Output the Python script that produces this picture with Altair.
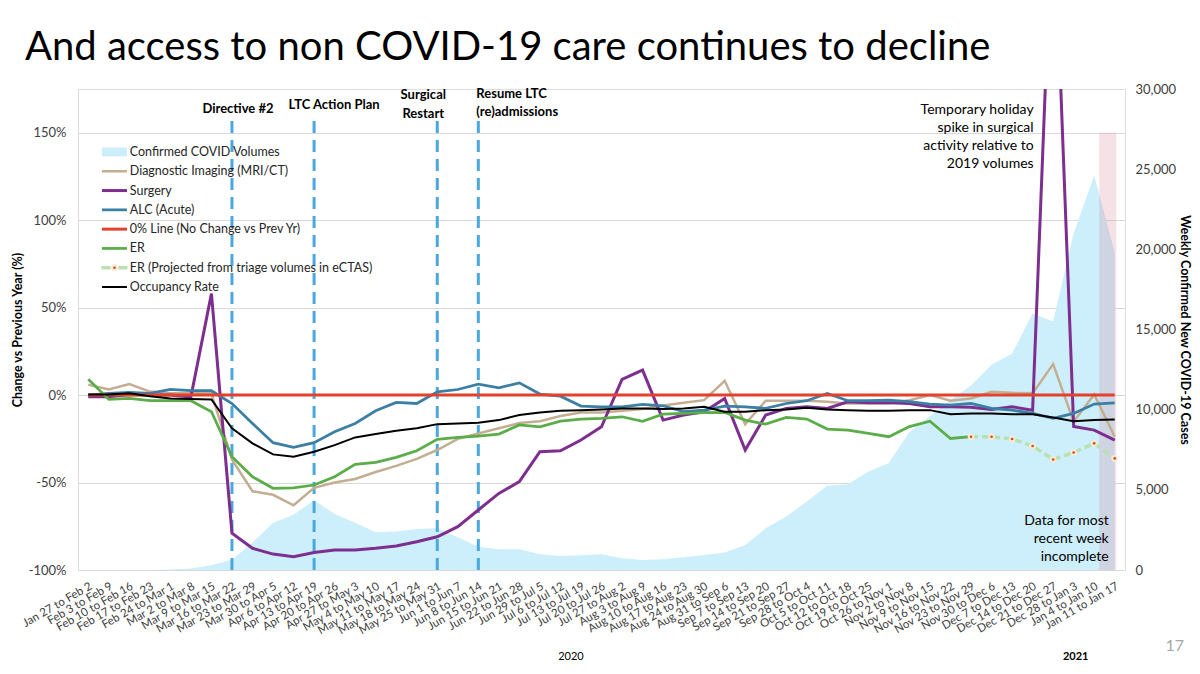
import altair as alt

WEEKS = [
    "Jan 27 to Feb 2", "Feb 3 to Feb 9", "Feb 10 to Feb 16", "Feb 17 to Feb 23", "Feb 24 to Mar 1",
    "Mar 2 to Mar 8", "Mar 9 to Mar 15", "Mar 16 to Mar 22", "Mar 23 to Mar 29", "Mar 30 to Apr 5",
    "Apr 6 to Apr 12", "Apr 13 to Apr 19", "Apr 20 to Apr 26", "Apr 27 to May 3", "May 4 to May 10",
    "May 11 to May 17", "May 18 to May 24", "May 25 to May 31", "Jun 1 to Jun 7", "Jun 8 to Jun 14",
    "Jun 15 to Jun 21", "Jun 22 to Jun 28", "Jun 29 to Jul 5", "Jul 6 to Jul 12", "Jul 13 to Jul 19",
    "Jul 20 to Jul 26", "Jul 27 to Aug 2", "Aug 3 to Aug 9", "Aug 10 to Aug 16", "Aug 17 to Aug 23",
    "Aug 24 to Aug 30", "Aug 31 to Sep 6", "Sep 7 to Sep 13", "Sep 14 to Sep 20", "Sep 21 to Sep 27",
    "Sep 28 to Oct 4", "Oct 5 to Oct 11", "Oct 12 to Oct 18", "Oct 19 to Oct 25", "Oct 26 to Nov 1",
    "Nov 2 to Nov 8", "Nov 9 to Nov 15", "Nov 16 to Nov 22", "Nov 23 to Nov 29", "Nov 30 to Dec 6",
    "Dec 7 to Dec 13", "Dec 14 to Dec 20", "Dec 21 to Dec 27", "Dec 28 to Jan 3", "Jan 4 to Jan 10",
    "Jan 11 to Jan 17",
]

COVID_CASES = [0, 0, 0, 0, 30, 100, 300, 650, 1700, 2950, 3450, 4350, 3500, 2950, 2350, 2400, 2550,
               2600, 2050, 1450, 1300, 1300, 980, 875, 920, 980, 730, 625, 670, 790, 940, 1085, 1560,
               2600, 3330, 4270, 5250, 5350, 6150, 6670, 8600, 9600, 10600, 11500, 12800, 13500, 16000,
               15500, 21000, 24600, 19800]

DIAGNOSTIC_IMAGING = [6, 3.2, 6.3, 2, 1, 1, 1, -37, -55, -57, -63, -53, -50, -48, -44, -40.5, -36.5,
                      -31.4, -25, -22, -19, -16, -15, -12, -10, -10, -9, -8, -6, -4.4, -2.9, 8.2,
                      -16.6, -3.2, -3.2, -3.2, -3.8, -4.8, -4.8, -4.8, -2.9, 0, -3.2, -1.9, 1.9, 1.3,
                      1, 17.7, -15.2, 0.4, -23.8]

SURGERY = [-1, -1, 0.4, 0, 0, -1, 58, -79, -87.6, -90.9, -92.4, -90, -88.6, -88.6, -87.6, -86.3,
           -83.8, -81, -75.2, -65.7, -56.2, -49.5, -32.4, -31.8, -25.7, -18.1, 9, 14.3, -14.3, -11.4,
           -9.5, -1.9, -31.4, -11.4, -7.6, -6.7, -7.6, -3.8, -4.4, -4.4, -4.8, -6.7, -6.7, -7, -8.2,
           -6.7, -8.6, 290, -18, -20, -25.7]

ALC_ACUTE = [0, 1, 1.5, 1, 3.2, 2.5, 2.5, -4.8, -16.2, -27.2, -29.9, -27.2, -21, -16.2, -9, -4.2,
             -4.8, 1.9, 3.2, 6.3, 4.2, 7, 0.6, -0.6, -6.3, -6.7, -6.7, -5.3, -6.1, -9.5, -8.6, -6.3,
             -6.7, -7.6, -4.8, -3.2, 1, -3.2, -3.2, -2.9, -3.8, -5.1, -5.7, -4.8, -7.6, -8.6, -10.5,
             -13.3, -10.5, -5.1, -4.4]

ZERO_LINE = [0 for _ in WEEKS]

# ER actuals: Jan 27 .. Nov 23 week
ER = [9, -2.5, -1.9, -3.2, -3.2, -3.2, -9.5, -35.2, -46.7, -53.3, -53, -51.4, -46.7, -39.6, -38.5,
      -35.6, -31.8, -25.3, -24.2, -23.4, -22.3, -17.1, -18.1, -14.9, -13.7, -13.3, -12.4, -15,
      -10.9, -10.5, -10, -9.9, -14.3, -16.6, -12.8, -13.7, -19.4, -20, -21.9, -23.8, -18, -14.9,
      -24.8, -23.8]

# ER projected from triage volumes: Nov 23 week .. Jan 11 week
ER_PROJECTED = [-23.8, -23.8, -25.1, -29.1, -36.8, -32.8, -27.6, -36.2]

OCCUPANCY = [0.4, 0.4, 1, -0.6, -1.9, -2.3, -2.5, -19, -27.6, -33.9, -35.2, -32.4, -28.6, -24.2,
             -22.3, -20.4, -19, -16.6, -16.2, -15.8, -14.3, -11.4, -10, -9, -8.6, -8.2, -7.6, -7.6,
             -8, -7.6, -6.7, -9.5, -9.5, -8.6, -8.2, -7.2, -8.2, -8.6, -9, -9, -8.6, -8.6, -10.9,
             -10.5, -10.5, -10.9, -10.9, -12.8, -14.9, -14.3, -13.9]

SERIES = [
    "Confirmed COVID Volumes",
    "Diagnostic Imaging (MRI/CT)",
    "Surgery",
    "ALC (Acute)",
    "0% Line (No Change vs Prev Yr)",
    "ER",
    "ER (Projected from triage volumes in eCTAS)",
    "Occupancy Rate",
]
COLORS = ["#cdeefb", "#c4ae92", "#7d2e8e", "#3b7fa5", "#e4412c", "#5aad48", "#b9e0b0", "#000000"]

MILESTONE_WEEKS = ["Mar 16 to Mar 22", "Apr 13 to Apr 19", "May 25 to May 31", "Jun 8 to Jun 14"]
INCOMPLETE_WEEK = "Jan 11 to Jan 17"

FONT = "Lato"
PROJ_NAME = SERIES[6]


def rows(name, vals, start=0):
    return [{"week": WEEKS[start + k], "series": name, "pct": v} for k, v in enumerate(vals)]


X = alt.X(
    "week:N",
    sort=WEEKS,
    scale=alt.Scale(type="band", domain=WEEKS, paddingInner=0, paddingOuter=0),
    axis=alt.Axis(title=None, labelAngle=-30, labelFontSize=11.5, labelFont=FONT, labelColor="#404040",
                  ticks=False, domain=False, labelPadding=10, labelOverlap=False, labelLimit=0),
)

Y_LEFT = alt.Y(
    "pct:Q",
    scale=alt.Scale(domain=[-100, 175], nice=False, zero=False),
    axis=alt.Axis(orient="left", title="Change vs Previous Year (%)", values=[-100, -50, 0, 50, 100, 150],
                  labelExpr="datum.value + '%'", grid=True, gridColor="#d9d9d9", ticks=False, domain=False,
                  labelFontSize=13, labelFont=FONT, labelColor="#404040", labelPadding=12,
                  titleFont=FONT, titleFontSize=12.5, titleFontWeight="bold", titleColor="#000",
                  titlePadding=4),
)

COLOR = alt.Color("series:N", scale=alt.Scale(domain=SERIES, range=COLORS), legend=None)

# --- COVID area on right axis
covid_rows = [{"week": w, "series": SERIES[0], "cases": c} for w, c in zip(WEEKS, COVID_CASES)]
area = alt.Chart(alt.Data(values=covid_rows)).mark_area(opacity=1, interpolate="linear").encode(
    x=X,
    y=alt.Y("cases:Q", scale=alt.Scale(domain=[0, 30000], nice=False),
            axis=alt.Axis(orient="right", values=[0, 5000, 10000, 15000, 20000, 25000, 30000],
                          labelExpr="format(datum.value, ',')",
                          grid=False, ticks=False, domain=False, labelFontSize=13, labelFont=FONT,
                          labelColor="#404040", labelPadding=10, title="Weekly Confirmed New COVID-19 Cases",
                          titleFont=FONT, titleFontSize=12.5, titleFontWeight="bold", titleColor="#000",
                          titlePadding=2)),
    color=COLOR,
)

# --- incomplete-week highlight
overlay = alt.Chart(alt.Data(values=[{"week": INCOMPLETE_WEEK, "pct": 150, "pct2": -100}])).mark_bar(
    color="#d9899a", opacity=0.25, width=17, xOffset=-7
).encode(x=X, y=Y_LEFT, y2="pct2:Q")

# --- milestone dashed lines
milestones = alt.Chart(alt.Data(values=[{"week": w, "pct": -100, "pct2": 157} for w in MILESTONE_WEEKS])).mark_rule(
    color="#4aa8dc", strokeWidth=3, strokeDash=[12, 7]
).encode(x=X, y=Y_LEFT, y2="pct2:Q")

layers = [overlay, milestones]

line_specs = [
    (SERIES[1], DIAGNOSTIC_IMAGING, 0, 2.5, None),
    (SERIES[2], SURGERY, 0, 3, None),
    (SERIES[3], ALC_ACUTE, 0, 2.75, None),
    (SERIES[4], ZERO_LINE, 0, 3, None),
    (SERIES[5], ER, 0, 2.75, None),
    (SERIES[6], ER_PROJECTED, 43, 3.5, [7, 4]),
    (SERIES[7], OCCUPANCY, 0, 2, None),
]
WIDTHS = {s[0]: s[3] for s in line_specs}
for name, vals, start, w, dash in line_specs:
    kw = dict(strokeWidth=w, clip=True)
    if dash:
        kw["strokeDash"] = dash
    layers.append(alt.Chart(alt.Data(values=rows(name, vals, start))).mark_line(**kw).encode(
        x=X, y=Y_LEFT, color=COLOR))
    if name == PROJ_NAME:
        pdata = alt.Data(values=rows(name, vals, start))
        layers.append(alt.Chart(pdata).mark_circle(size=45, color="#f5ecd2", opacity=1).encode(x=X, y=Y_LEFT))
        layers.append(alt.Chart(pdata).mark_circle(size=7, color="#d9482b", opacity=1).encode(x=X, y=Y_LEFT))

# --- legend (drawn in the plot's own coordinates, top-left corner)
LEG_TOP, LEG_STEP = 139.0, 11.03
leg_rows = [{"week": WEEKS[0], "series": s, "pct": LEG_TOP - k * LEG_STEP} for k, s in enumerate(SERIES)]
leg_main = [r for r in leg_rows if r["series"] not in (SERIES[0], PROJ_NAME)]
for r in leg_main:
    layers.append(alt.Chart(alt.Data(values=[r])).mark_tick(
        size=25, thickness=WIDTHS[r["series"]], opacity=1, xOffset=26.2).encode(x=X, y=Y_LEFT, color=COLOR))
layers.append(alt.Chart(alt.Data(values=[leg_rows[0]])).mark_tick(
    size=25, thickness=9, opacity=1, xOffset=26.2).encode(x=X, y=Y_LEFT, color=COLOR))
for off in (17.7, 34.7):
    layers.append(alt.Chart(alt.Data(values=[leg_rows[6]])).mark_tick(
        size=9, thickness=3.5, opacity=1, xOffset=off).encode(x=X, y=Y_LEFT, color=COLOR))
layers.append(alt.Chart(alt.Data(values=[leg_rows[6]])).mark_circle(
    size=45, color="#f5ecd2", opacity=1, xOffset=26.2).encode(x=X, y=Y_LEFT))
layers.append(alt.Chart(alt.Data(values=[leg_rows[6]])).mark_circle(
    size=7, color="#d9482b", opacity=1, xOffset=26.2).encode(x=X, y=Y_LEFT))
layers.append(alt.Chart(alt.Data(values=leg_rows)).mark_text(
    align="left", baseline="middle", dx=41.5, fontSize=12.5, font=FONT, color="#262626").encode(
    x=X, y=Y_LEFT, text="series:N"))


def note(week, pct, text, align="center", dx=0, size=13, weight="bold", color="#000", line_height=18.5):
    return alt.Chart(alt.Data(values=[{"week": week, "pct": pct, "label": text}])).mark_text(
        align=align, baseline="middle", dx=dx, fontSize=size, fontWeight=weight, font=FONT, color=color,
        lineHeight=line_height,
    ).encode(x=X, y=Y_LEFT, text="label:N")


layers += [
    note(MILESTONE_WEEKS[0], 163.6, "Directive #2", dx=6),
    note(MILESTONE_WEEKS[1], 165.7, "LTC Action Plan", dx=20),
    note(MILESTONE_WEEKS[2], 171.4, ["Surgical", "Restart"], dx=-14),
    note(MILESTONE_WEEKS[3], 172.3, ["Resume LTC", "(re)admissions"], align="left", dx=-2),
    note("Dec 14 to Dec 20", 163.0, ["Temporary holiday", "spike in surgical", "activity relative to",
                                     "2019 volumes"], align="right", dx=1, size=14, weight="normal",
         line_height=18),
    note(INCOMPLETE_WEEK, -71.8, ["Data for most", "recent week", "incomplete"], align="right", dx=-6,
         size=14, weight="normal", line_height=18),
    note("Jul 6 to Jul 12", -149.5, "2020", dx=10.5, size=11, weight="normal"),
    note("Dec 28 to Jan 3", -150, "2021", dx=2, size=11, weight="bold"),
    note(INCOMPLETE_WEEK, -143.4, "17", dx=60, size=16, weight="normal", color="#a6a6a6"),
]

inner = alt.layer(*layers)

chart = alt.layer(area, inner).resolve_scale(y="independent").properties(
    width=1047,
    height=481,
    padding={"left": 70, "top": 81, "right": 67, "bottom": 92},
    autosize=alt.AutoSizeParams(type="none"),
    title=alt.TitleParams(
        text="And access to non COVID-19 care continues to decline",
        anchor="start", frame="group", dx=-53, offset=15, fontSize=40, font=FONT, fontWeight="normal",
        color="#000",
    ),
).configure_view(stroke=None).configure(background="white")

chart.save("out.html", embed_options={"renderer": "svg", "actions": False})
